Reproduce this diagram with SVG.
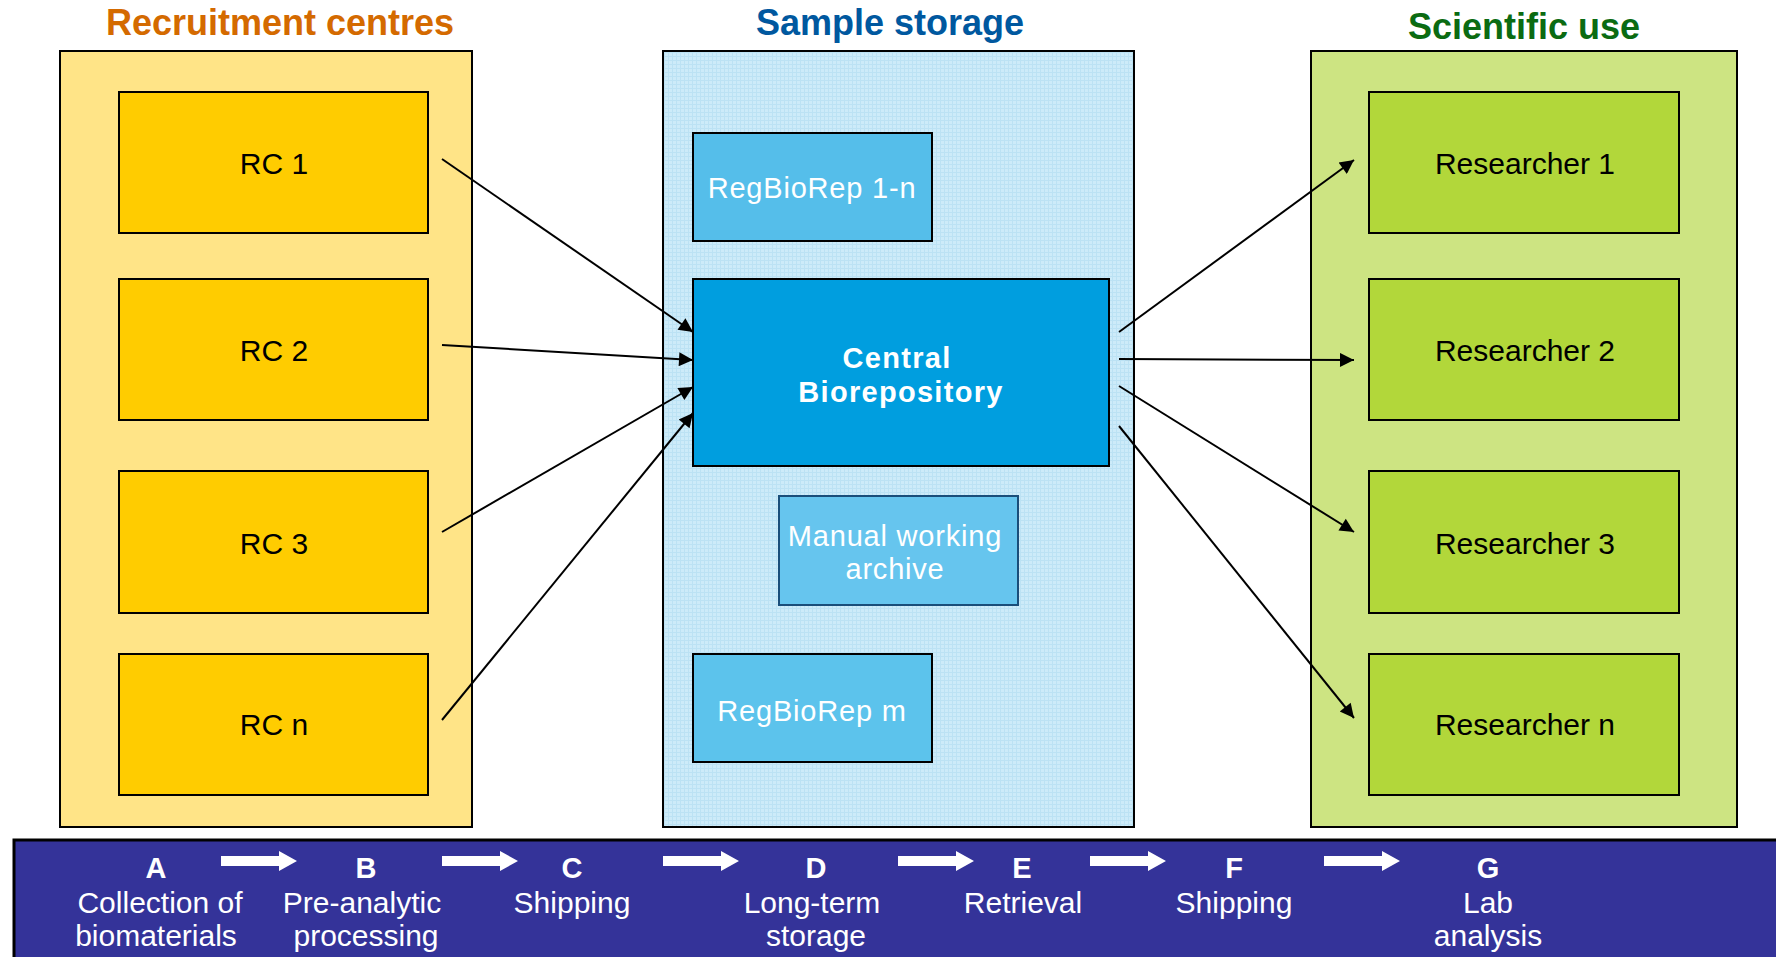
<svg xmlns="http://www.w3.org/2000/svg" width="1776" height="957" viewBox="0 0 1776 957">
<defs>
<style>
.title{font-family:"Liberation Sans",Arial,sans-serif;font-weight:bold;font-size:36px;text-anchor:middle}
.lbl{font-family:"Liberation Sans",Arial,sans-serif;font-size:30px;text-anchor:middle;fill:#000}
.wl{font-family:"Liberation Sans",Arial,sans-serif;font-size:29px;text-anchor:middle;fill:#fff;letter-spacing:0.8px}
.wb{font-family:"Liberation Sans",Arial,sans-serif;font-size:29px;font-weight:bold;text-anchor:middle;fill:#fff;letter-spacing:1.3px}
.step{font-family:"Liberation Sans",Arial,sans-serif;font-size:29px;font-weight:bold;text-anchor:middle;fill:#fff}
.sl{font-family:"Liberation Sans",Arial,sans-serif;font-size:30px;text-anchor:middle;fill:#fff}
.panel{stroke:#000;stroke-width:2}
.box{stroke:#000;stroke-width:2}
.conn{stroke:#000;stroke-width:2;fill:none;marker-end:url(#ah)}
</style>
<marker id="ah" viewBox="0 0 10 10" refX="10" refY="5" markerWidth="8" markerHeight="7" markerUnits="strokeWidth" orient="auto">
<path d="M0,0 L10,5 L0,10 z" fill="#000"/>
</marker>
<pattern id="grid" width="4" height="4" patternUnits="userSpaceOnUse">
<rect width="4" height="4" fill="#CDEBF9"/>
<path d="M0,0.5 H4 M0.5,0 V4" stroke="#BCE2F4" stroke-width="1"/>
</pattern>
<path id="wa" d="M0,-5 H58 V-10 L76,0 L58,10 V5 H0 z" fill="#fff"/>
</defs>
<rect width="1776" height="957" fill="#fff"/>

<g id="recruitment-centres">
<text class="title" x="280" y="35" fill="#D46A00">Recruitment centres</text>
<rect class="panel" x="60" y="51" width="412" height="776" fill="#FFE487"/>
</g>
<g id="sample-storage">
<text class="title" x="890" y="35" fill="#00589F">Sample storage</text>
<rect class="panel" x="663" y="51" width="471" height="776" fill="url(#grid)"/>
</g>
<g id="scientific-use">
<text class="title" x="1524" y="39" fill="#0B6B12">Scientific use</text>
<rect class="panel" x="1311" y="51" width="426" height="776" fill="#CDE482"/>
</g>

<g id="rc1"><rect class="box" x="119" y="92" width="309" height="141" fill="#FFCC00"/><text class="lbl" x="274" y="174">RC 1</text></g>
<g id="rc2"><rect class="box" x="119" y="279" width="309" height="141" fill="#FFCC00"/><text class="lbl" x="274" y="361">RC 2</text></g>
<g id="rc3"><rect class="box" x="119" y="471" width="309" height="142" fill="#FFCC00"/><text class="lbl" x="274" y="554">RC 3</text></g>
<g id="rcn"><rect class="box" x="119" y="654" width="309" height="141" fill="#FFCC00"/><text class="lbl" x="274" y="735">RC n</text></g>

<g id="regbiorep-1n"><rect class="box" x="693" y="133" width="239" height="108" fill="#55BEEA"/><text class="wl" x="812" y="198">RegBioRep 1-n</text></g>
<g id="central"><rect class="box" x="693" y="279" width="416" height="187" fill="#009EDF"/><text class="wb" x="897" y="368">Central</text><text class="wb" x="901" y="402">Biorepository</text></g>
<g id="manual-archive"><rect x="779" y="496" width="239" height="109" fill="#66C5EE" stroke="#1A4E7A" stroke-width="2"/><text class="wl" x="895" y="546">Manual working</text><text class="wl" x="895" y="579">archive</text></g>
<g id="regbiorep-m"><rect class="box" x="693" y="654" width="239" height="108" fill="#5CC3EC"/><text class="wl" x="812" y="721">RegBioRep m</text></g>

<g id="res1"><rect class="box" x="1369" y="92" width="310" height="141" fill="#B2D73A"/><text class="lbl" x="1525" y="174">Researcher 1</text></g>
<g id="res2"><rect class="box" x="1369" y="279" width="310" height="141" fill="#B2D73A"/><text class="lbl" x="1525" y="361">Researcher 2</text></g>
<g id="res3"><rect class="box" x="1369" y="471" width="310" height="142" fill="#B2D73A"/><text class="lbl" x="1525" y="554">Researcher 3</text></g>
<g id="resn"><rect class="box" x="1369" y="654" width="310" height="141" fill="#B2D73A"/><text class="lbl" x="1525" y="735">Researcher n</text></g>

<g id="connectors">
<line class="conn" x1="442" y1="159" x2="693" y2="332"/>
<line class="conn" x1="442" y1="345" x2="693" y2="360"/>
<line class="conn" x1="442" y1="532" x2="693" y2="387"/>
<line class="conn" x1="442" y1="720" x2="693" y2="413"/>
<line class="conn" x1="1119" y1="332" x2="1354" y2="160"/>
<line class="conn" x1="1119" y1="359" x2="1354" y2="360"/>
<line class="conn" x1="1119" y1="386" x2="1354" y2="532"/>
<line class="conn" x1="1119" y1="426" x2="1354" y2="718"/>
</g>

<g id="process-bar">
<rect x="14" y="840" width="1770" height="130" fill="#343399" stroke="#000" stroke-width="3"/>
<use href="#wa" x="221" y="861"/>
<use href="#wa" x="442" y="861"/>
<use href="#wa" x="663" y="861"/>
<use href="#wa" x="898" y="861"/>
<use href="#wa" x="1090" y="861"/>
<use href="#wa" x="1324" y="861"/>
<text class="step" x="156" y="878">A</text>
<text class="sl" x="160" y="913">Collection of</text>
<text class="sl" x="156" y="946">biomaterials</text>
<text class="step" x="366" y="878">B</text>
<text class="sl" x="362" y="913">Pre-analytic</text>
<text class="sl" x="366" y="946">processing</text>
<text class="step" x="572" y="878">C</text>
<text class="sl" x="572" y="913">Shipping</text>
<text class="step" x="816" y="878">D</text>
<text class="sl" x="812" y="913">Long-term</text>
<text class="sl" x="816" y="946">storage</text>
<text class="step" x="1022" y="878">E</text>
<text class="sl" x="1023" y="913">Retrieval</text>
<text class="step" x="1234" y="878">F</text>
<text class="sl" x="1234" y="913">Shipping</text>
<text class="step" x="1488" y="878">G</text>
<text class="sl" x="1488" y="913">Lab</text>
<text class="sl" x="1488" y="946">analysis</text>
</g>
</svg>
